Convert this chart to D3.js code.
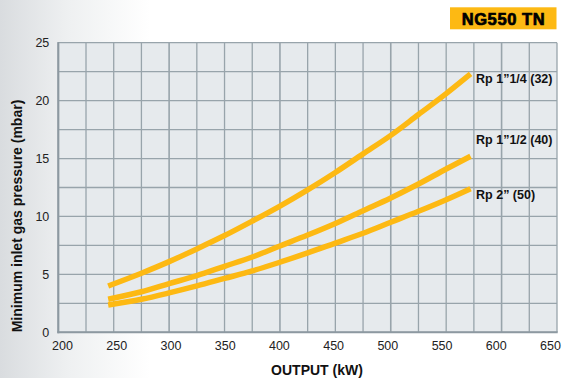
<!DOCTYPE html>
<html>
<head>
<meta charset="utf-8">
<script src="https://cdn.jsdelivr.net/npm/d3@7"></script>
<style>
  html, body { margin: 0; padding: 0; background: #ffffff; }
  svg { display: block; }
  text { font-family: "Liberation Sans", Arial, Helvetica, sans-serif; }
</style>
</head>
<body>
<div id="chart"></div>
<script>
// ---- data ----
const outputKW = [245, 275, 300, 325, 350, 375, 400, 425, 450, 475, 500, 525, 550, 572];
const rp114 = [4.0, 5.1, 6.1, 7.2, 8.35, 9.6, 10.9, 12.3, 13.8, 15.4, 17.0, 18.8, 20.6, 22.3];
const rp112 = [2.85, 3.5, 4.2, 4.9, 5.7, 6.5, 7.45, 8.4, 9.4, 10.5, 11.6, 12.8, 14.1, 15.2];
const rp2   = [2.35, 2.85, 3.4, 4.0, 4.65, 5.3, 6.05, 6.85, 7.7, 8.55, 9.5, 10.45, 11.45, 12.4];
const seriesNames = ["Rp 1\u201D1/4 (32)", "Rp 1\u201D1/2 (40)", "Rp 2\u201D (50)"];
const xTicks = [200, 250, 300, 350, 400, 450, 500, 550, 600, 650];
const yTicks = [0, 5, 10, 15, 20, 25];
const xGrid = d3.range(200, 651, 25);
const yGrid = d3.range(0, 25.1, 2.5);
const title = "NG550 TN";
const xTitle = "OUTPUT (kW)";
const yTitle = "Minimum inlet gas pressure (mbar)";

// ---- layout ----
const W = 565, H = 378;
const L = 58.3, R = 557, T = 42.7, B = 332.3;
const ORANGE = "#fdb913";

const svg = d3.select("#chart").append("svg").attr("width", W).attr("height", H);

// background fade on left
const defs = svg.append("defs");
const lg = defs.append("linearGradient").attr("id", "bgfade").attr("x1", 0).attr("x2", 1).attr("y1", 0).attr("y2", 0);
lg.append("stop").attr("offset", 0).attr("stop-color", "#d9dcdf");
lg.append("stop").attr("offset", 0.45).attr("stop-color", "#eef0f1");
lg.append("stop").attr("offset", 1).attr("stop-color", "#ffffff");
svg.append("rect").attr("x", 0).attr("y", 0).attr("width", 150).attr("height", H).attr("fill", "url(#bgfade)");

const x = d3.scaleLinear().domain([200, 650]).range([L, R]);
const xl = d3.scaleLinear().domain([200, 650]).range([62, 550]); // tick label placement
const y = d3.scaleLinear().domain([0, 25]).range([B, T]);

// plot background
svg.append("rect").attr("x", L).attr("y", T).attr("width", R - L).attr("height", B - T).attr("fill", "#e6eaed");

// grid
const g = svg.append("g");
g.selectAll(".vg").data(xGrid).join("line")
  .attr("x1", d => x(d)).attr("x2", d => x(d)).attr("y1", T).attr("y2", B)
  .attr("stroke", "#98a4ab").attr("stroke-width", d => (d % 100 === 0 ? 1.6 : 1.3));
g.selectAll(".hg").data(yGrid).join("line")
  .attr("x1", L).attr("x2", R).attr("y1", d => y(d)).attr("y2", d => y(d))
  .attr("stroke", "#98a4ab").attr("stroke-width", 1.3);

// axes lines
svg.append("line").attr("x1", L).attr("x2", L).attr("y1", T - 0.7).attr("y2", B + 1)
  .attr("stroke", "#8d99a1").attr("stroke-width", 2);
svg.append("line").attr("x1", L - 1).attr("x2", R + 0.7).attr("y1", B).attr("y2", B)
  .attr("stroke", "#8d99a1").attr("stroke-width", 2);

// tick labels via d3 axes
const xAxis = svg.append("g").attr("transform", `translate(0,${B})`)
  .call(d3.axisBottom(xl).tickValues(xTicks).tickSize(0).tickPadding(9).tickFormat(d3.format("d")));
xAxis.select(".domain").remove();
xAxis.selectAll("text").attr("font-size", 12.5).attr("fill", "#222").attr("font-family", "Liberation Sans, Arial, sans-serif");

const yAxis = svg.append("g").attr("transform", `translate(${L},0)`)
  .call(d3.axisLeft(y).tickValues(yTicks).tickSize(0).tickPadding(9).tickFormat(d3.format("d")));
yAxis.select(".domain").remove();
yAxis.selectAll("text").attr("font-size", 12.5).attr("fill", "#222").attr("font-family", "Liberation Sans, Arial, sans-serif");

// curves
const line = d3.line().x(d => x(d[0])).y(d => y(d[1])).curve(d3.curveMonotoneX);
const series = [rp114, rp112, rp2];
series.forEach((vals, i) => {
  const pts = outputKW.map((k, j) => [k, vals[j]]);
  svg.append("path").attr("d", line(pts)).attr("fill", "none")
    .attr("stroke", ORANGE).attr("stroke-width", 5.5).attr("stroke-linecap", "butt");
  svg.append("text")
    .attr("x", x(outputKW[outputKW.length - 1]) + 5.5)
    .attr("y", y(vals[vals.length - 1]) + [9.5, -12, 10][i])
    .attr("font-size", 12.5).attr("font-weight", "bold").attr("fill", "#111")
    .text(seriesNames[i]);
});

// title box
svg.append("rect").attr("x", 450).attr("y", 7.3).attr("width", 106.5).attr("height", 22).attr("fill", ORANGE);
svg.append("text").attr("x", 503.5).attr("y", 24.5).attr("text-anchor", "middle")
  .attr("font-size", 16.5).attr("font-weight", "bold").attr("fill", "#000")
  .attr("stroke", "#000").attr("stroke-width", 0.7)
  .attr("letter-spacing", 0.6).text(title);

// axis titles
svg.append("text").attr("x", 317).attr("y", 375).attr("text-anchor", "middle")
  .attr("font-size", 14).attr("font-weight", "bold").attr("fill", "#111").text(xTitle);
svg.append("text").attr("transform", "translate(22,216) rotate(-90)").attr("text-anchor", "middle")
  .attr("font-size", 14).attr("font-weight", "bold").attr("fill", "#111").text(yTitle);
</script>
</body>
</html>
